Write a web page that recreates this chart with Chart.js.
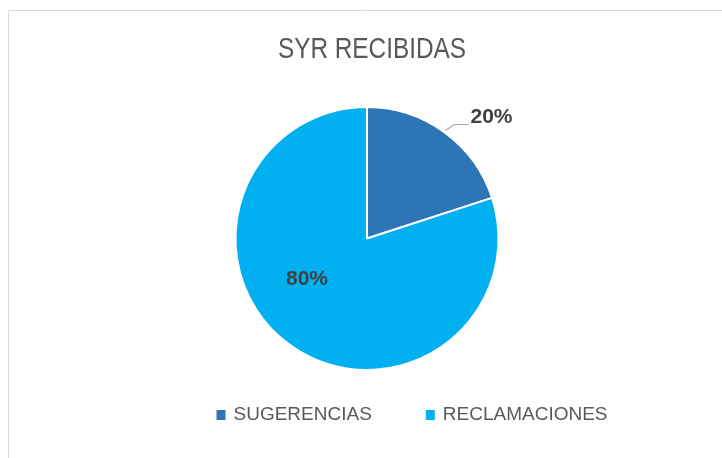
<!DOCTYPE html>
<html><head><meta charset="utf-8">
<script src="https://cdn.jsdelivr.net/npm/chart.js@4/dist/chart.umd.min.js"></script>
<style>html,body{margin:0;padding:0;background:#fff}#wrap{width:722px;height:458px;position:relative}</style>
</head><body><div id="wrap"><canvas id="c" width="722" height="458"></canvas></div>
<script>
const categories = ["SUGERENCIAS", "RECLAMACIONES"];
const values = [20, 80];
const sliceColors = ["#2E75B6", "#00B0F0"];
const chartTitle = "SYR RECIBIDAS";

function fitText(ctx, txt, x, y, align, scaleX) {
  ctx.save();
  ctx.translate(x, y);
  ctx.scale(scaleX, 1);
  ctx.textAlign = align;
  ctx.fillText(txt, 0, 0);
  ctx.restore();
}

const decor = {
  id: 'decor',
  afterDraw(chart) {
    const ctx = chart.ctx;
    ctx.save();
    // frame
    ctx.strokeStyle = '#d9d9d9'; ctx.lineWidth = 1;
    ctx.beginPath(); ctx.moveTo(8.5, 458); ctx.lineTo(8.5, 10.5); ctx.lineTo(722, 10.5); ctx.stroke();
    // title
    ctx.fillStyle = '#595959';
    ctx.textBaseline = 'middle';
    ctx.font = '29px "Liberation Sans", Arial, sans-serif';
    fitText(ctx, chartTitle, 372, 50, 'center', 0.84);
    // data labels
    const meta = chart.getDatasetMeta(0);
    const total = values.reduce((a, b) => a + b, 0);
    ctx.font = 'bold 21px "Liberation Sans", Arial, sans-serif';
    ctx.fillStyle = '#404040';
    meta.data.forEach((arc, i) => {
      const p = arc.getProps(['x', 'y', 'startAngle', 'endAngle', 'outerRadius'], true);
      const txt = Math.round(values[i] / total * 100) + '%';
      const mid = (p.startAngle + p.endAngle) / 2;
      if (i === 0) {
        const r = p.outerRadius + 2;
        const x1 = p.x + r * Math.cos(mid), y1 = p.y + r * Math.sin(mid);
        const ex = x1 + 9, ey = y1 - 6;
        ctx.strokeStyle = '#a6a6a6'; ctx.lineWidth = 1.2;
        ctx.beginPath(); ctx.moveTo(x1, y1); ctx.lineTo(ex, ey); ctx.lineTo(ex + 14, ey); ctx.stroke();
        ctx.textAlign = 'left'; ctx.textBaseline = 'middle';
        ctx.fillText(txt, ex + 16, ey - 7);
      } else {
        ctx.textAlign = 'center'; ctx.textBaseline = 'middle';
        ctx.fillText(txt, p.x - 60, p.y + 41);
      }
    });
    // legend
    ctx.font = '19px "Liberation Sans", Arial, sans-serif';
    ctx.textBaseline = 'middle';
    const sx = 1.0;
    const box = 9, gapBT = 8, gapItem = 54;
    let totalW = 0;
    categories.forEach((c, i) => { totalW += box + gapBT + ctx.measureText(c).width * sx + (i < categories.length - 1 ? gapItem : 0); });
    let x = 412 - totalW / 2;
    const ly = 415;
    categories.forEach((c, i) => {
      ctx.fillStyle = sliceColors[i];
      ctx.fillRect(x, ly - 5, box, 10);
      x += box + gapBT;
      ctx.fillStyle = '#595959';
      fitText(ctx, c, x, ly, 'left', sx);
      x += ctx.measureText(c).width * sx + gapItem;
    });
    ctx.restore();
  }
};

new Chart(document.getElementById('c'), {
  type: 'pie',
  data: {
    labels: categories,
    datasets: [{ data: values, backgroundColor: sliceColors, borderColor: '#ffffff', borderWidth: 2 }]
  },
  options: {
    responsive: false,
    animation: false,
    layout: { padding: { left: 12, right: 0, top: 106, bottom: 87 } },
    plugins: { legend: { display: false }, title: { display: false }, tooltip: { enabled: false } }
  },
  plugins: [decor]
});
</script>
</body></html>
